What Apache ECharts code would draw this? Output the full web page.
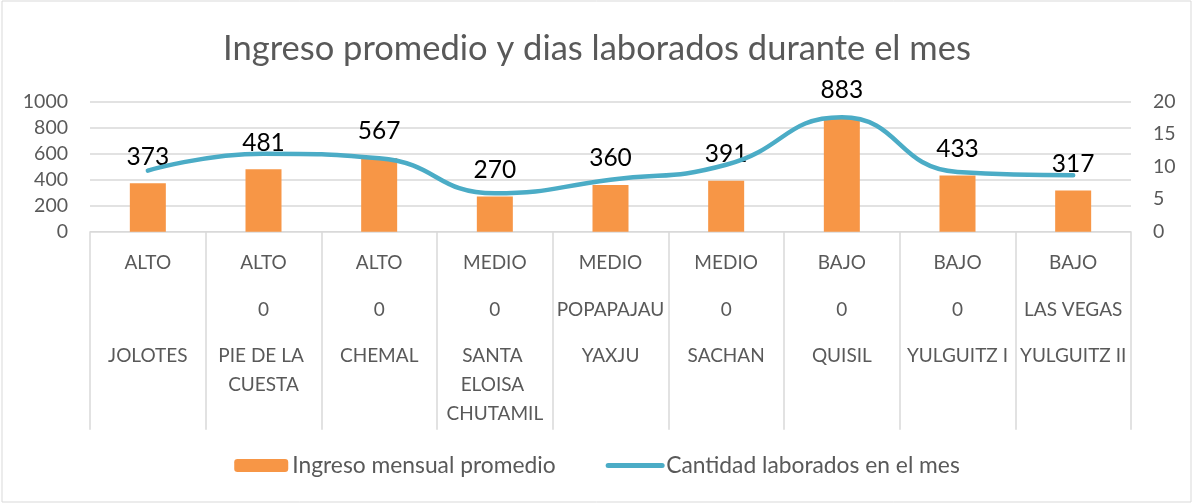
<!DOCTYPE html>
<html>
<head>
<meta charset="utf-8">
<script src="https://cdn.jsdelivr.net/npm/echarts@6/dist/echarts.min.js"></script>
<style>
  html, body { margin: 0; padding: 0; background: #fff; }
  #chart { width: 1194px; height: 504px; }
</style>
</head>
<body>
<div id="chart"></div>
<script>
const nivel = ['ALTO', 'ALTO', 'ALTO', 'MEDIO', 'MEDIO', 'MEDIO', 'BAJO', 'BAJO', 'BAJO'];
const sector = ['', '0', '0', '0', 'POPAPAJAU', '0', '0', '0', 'LAS VEGAS'];
const comunidad = ['JOLOTES', 'PIE DE LA CUESTA', 'CHEMAL', 'SANTA ELOISA CHUTAMIL', 'YAXJU', 'SACHAN', 'QUISIL', 'YULGUITZ I', 'YULGUITZ II'];
const ingreso = [373, 481, 567, 270, 360, 391, 883, 433, 317];
const dias = [9.4, 12, 11.3, 5.9, 8, 10.3, 17.6, 9.2, 8.7];

const FONT = 'Lato, "Liberation Sans", sans-serif';
const GRAY = '#595959';
const LINE = '#d9d9d9';

const chart = echarts.init(document.getElementById('chart'));

// three stacked category axes make the multi-level labels
const catAxis = (data, offset, extra) => ({
  type: 'category',
  data: data,
  position: 'bottom',
  offset: offset,
  axisLine: { show: offset === 0, lineStyle: { color: LINE, width: 1 } },
  axisTick: { show: offset === 0, length: 198, lineStyle: { color: LINE, width: 1.5 } },
  axisLabel: Object.assign({
    interval: 0,
    hideOverlap: false,
    color: GRAY,
    fontFamily: FONT,
    fontSize: 19,
    lineHeight: 20,
    margin: 21
  }, extra || {})
});

chart.setOption({
  animation: false,
  graphic: [{
    type: 'rect',
    shape: { x: 2, y: 1, width: 1189, height: 501 },
    style: { fill: 'none', stroke: LINE, lineWidth: 1 },
    silent: true
  }],
  title: {
    text: 'Ingreso promedio y dias laborados durante el mes',
    left: 'center',
    top: 29,
    padding: 0,
    textStyle: { color: GRAY, fontFamily: FONT, fontSize: 34.5, fontWeight: 'normal', lineHeight: 40 }
  },
  legend: {
    left: 'center',
    top: 454,
    padding: 0,
    itemWidth: 54,
    itemHeight: 13,
    itemGap: 50,
    textStyle: { color: GRAY, fontFamily: FONT, fontSize: 22.8, padding: [0, 0, 0, -1] },
    data: [
      { name: 'Ingreso mensual promedio' },
      {
        name: 'Cantidad laborados en el mes',
        itemStyle: { opacity: 0 },
        lineStyle: { width: 5, cap: 'round', color: '#4bacc6' }
      }
    ]
  },
  grid: { left: 90, right: 63, top: 101.7, bottom: 272.3 },
  xAxis: [
    catAxis(nivel, 0),
    catAxis(sector, 47),
    catAxis(comunidad, 94, { width: 112, overflow: 'break', lineHeight: 29, margin: 16 })
  ],
  yAxis: [{
    type: 'value',
    min: 0, max: 1000, interval: 200,
    axisLine: { show: false },
    axisTick: { show: false },
    axisLabel: { color: GRAY, fontFamily: FONT, fontSize: 19.5, margin: 22, formatter: v => String(v) },
    splitLine: { lineStyle: { color: LINE, width: 1.5 } }
  }, {
    type: 'value',
    min: 0, max: 20, interval: 5,
    axisLine: { show: false },
    axisTick: { show: false },
    axisLabel: { color: GRAY, fontFamily: FONT, fontSize: 19.5, margin: 22 },
    splitLine: { show: false }
  }],
  series: [{
    name: 'Ingreso mensual promedio',
    type: 'bar',
    data: ingreso,
    barWidth: 36,
    itemStyle: { color: '#f79646' },
    label: {
      show: true,
      position: 'top',
      distance: 14,
      color: '#000',
      fontFamily: FONT,
      fontSize: 24.5
    },
    z: 2
  }, {
    name: 'Cantidad laborados en el mes',
    type: 'line',
    yAxisIndex: 1,
    data: dias,
    smooth: 0.5,
    symbol: 'none',
    lineStyle: { color: '#4bacc6', width: 4.5, cap: 'round' },
    itemStyle: { color: '#4bacc6' },
    z: 3
  }]
});
</script>
</body>
</html>
